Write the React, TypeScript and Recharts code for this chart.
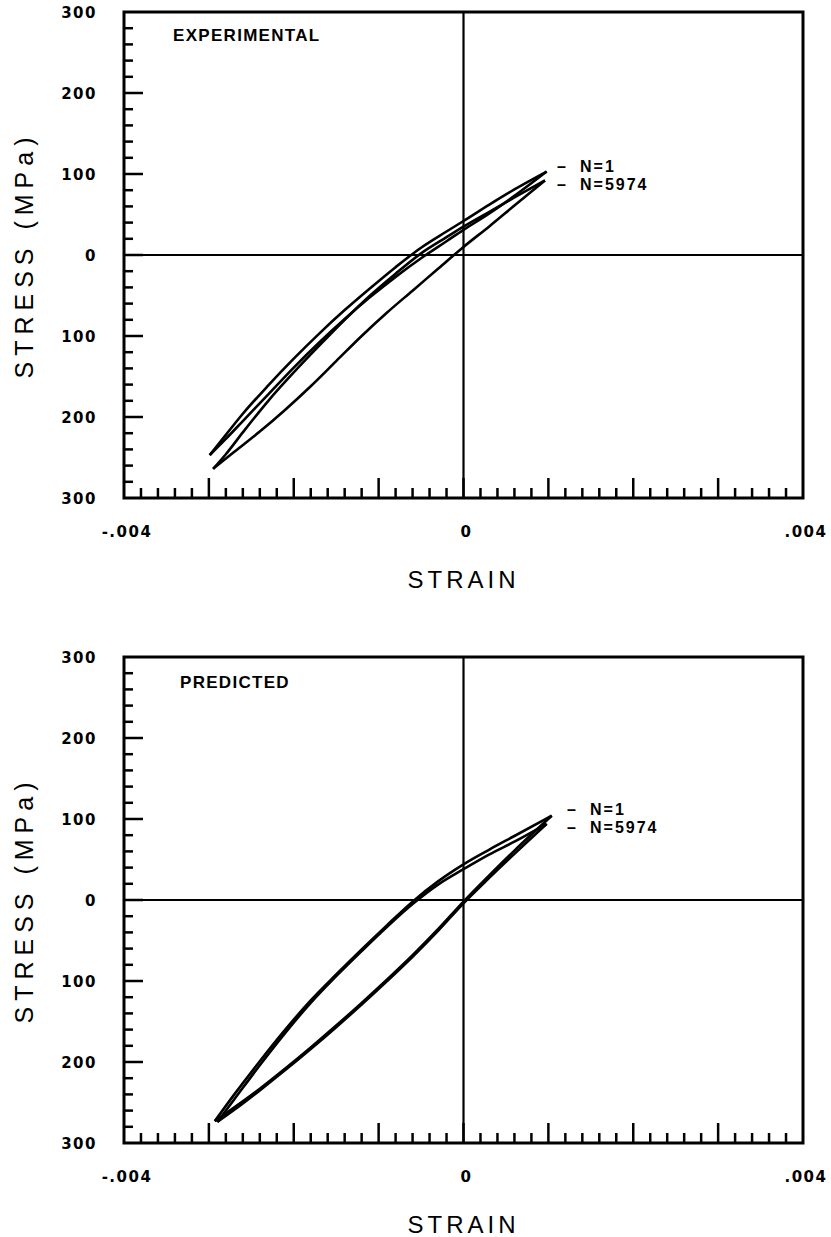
import { LineChart, Line, XAxis, YAxis, ReferenceLine, ReferenceArea, Label } from "recharts"

type Pt = [number, number]

// [strain, stress MPa] — each branch listed in increasing strain
const expN1Loading: Pt[] = [
  [-0.00299, -247], [-0.0028, -222], [-0.0026, -196], [-0.0023, -161], [-0.002, -128],
  [-0.0017, -97], [-0.0014, -68], [-0.0011, -41], [-0.0008, -15], [-0.0005, 9],
  [-0.0002, 29], [0, 42], [0.0003, 62], [0.0006, 81], [0.00098, 103],
]
const expN1Unloading: Pt[] = [
  [-0.00299, -247], [-0.0028, -227], [-0.0026, -205], [-0.0023, -172], [-0.002, -139],
  [-0.0017, -108], [-0.0014, -79], [-0.0011, -52], [-0.0008, -27], [-0.0005, -4],
  [-0.0002, 17], [0, 31], [0.0003, 51], [0.0006, 73], [0.00098, 103],
]
const expN5974Loading: Pt[] = [
  [-0.00295, -264], [-0.0028, -246], [-0.0026, -219], [-0.0023, -180], [-0.002, -145],
  [-0.0017, -112], [-0.0014, -80], [-0.0011, -50], [-0.0008, -23], [-0.0005, 2],
  [-0.0002, 22], [0, 35], [0.0003, 53], [0.0006, 71], [0.00096, 92],
]
const expN5974Unloading: Pt[] = [
  [-0.00295, -264], [-0.0027, -243], [-0.0024, -218], [-0.0021, -191], [-0.0018, -162],
  [-0.0015, -131], [-0.0012, -100], [-0.0009, -71], [-0.0006, -44], [-0.0003, -17],
  [0, 10], [0.0003, 35], [0.0006, 61], [0.00096, 92],
]

const predN1Loading: Pt[] = [
  [-0.00293, -273], [-0.0027, -240], [-0.0024, -199], [-0.0021, -160], [-0.0018, -124],
  [-0.0015, -92], [-0.0012, -61], [-0.0009, -31], [-0.0006, -2], [-0.0003, 23],
  [0, 44], [0.0003, 62], [0.0006, 79], [0.00104, 104],
]
const predN1Unloading: Pt[] = [
  [-0.00293, -273], [-0.0027, -256], [-0.0024, -233], [-0.0021, -208], [-0.0018, -182],
  [-0.0015, -155], [-0.0012, -127], [-0.0009, -98], [-0.0006, -68], [-0.0003, -36],
  [0, -2], [0.0003, 30], [0.0006, 61], [0.00104, 104],
]
const predN5974Loading: Pt[] = [
  [-0.0029, -274], [-0.0027, -246], [-0.0024, -204], [-0.0021, -164], [-0.0018, -127],
  [-0.0015, -94], [-0.0012, -63], [-0.0009, -33], [-0.0006, -5], [-0.0003, 19],
  [0, 38], [0.0003, 56], [0.0006, 72], [0.00098, 94],
]
const predN5974Unloading: Pt[] = [
  [-0.0029, -274], [-0.0027, -259], [-0.0024, -235], [-0.0021, -210], [-0.0018, -184],
  [-0.0015, -157], [-0.0012, -129], [-0.0009, -100], [-0.0006, -70], [-0.0003, -38],
  [0, -4], [0.0003, 27], [0.0006, 57], [0.00098, 94],
]

// axis ticks
const strainLabelValues = [-0.004, 0, 0.004]
const strainLabelText = ["-.004", "0", ".004"]
const stressMajor = [-300, -200, -100, 0, 100, 200, 300]
const STRAIN_STEP = 0.0002
const STRESS_STEP = 20

const strainTicks = Array.from({ length: 41 }, (_, i) => Number((-0.004 + i * STRAIN_STEP).toFixed(4)))
const stressTicks = Array.from({ length: 31 }, (_, i) => -300 + i * STRESS_STEP)

const PLOT_FONT = '"DejaVu Sans", sans-serif'
const TEXT_FONT = '"Liberation Sans", Arial, sans-serif'

const rows = (pts: Pt[]) => pts.map(([strain, stress]) => ({ strain, stress }))

function StrainTick(props: any) {
  const { x, y, payload } = props
  const v = payload.value as number
  const major = Math.abs(v * 1000 - Math.round(v * 1000)) < 1e-6
  const li = strainLabelValues.findIndex((s) => Math.abs(s - v) < 1e-9)
  return (
    <g>
      {Math.abs(v) < 0.0039 && (
        <line x1={x} x2={x} y1={y} y2={y - (major ? 20 : 10)} stroke="#000" strokeWidth={2.5} />
      )}
      {li >= 0 && (
        <text x={x + 3} y={y + 39} textAnchor="middle" fontFamily={PLOT_FONT} fontWeight="bold"
          fontSize={15} letterSpacing={1.5} fill="#000">
          {strainLabelText[li]}
        </text>
      )}
    </g>
  )
}

function StressTick(props: any) {
  const { x, y, payload } = props
  const v = payload.value as number
  const major = stressMajor.includes(v)
  return (
    <g>
      {Math.abs(v) < 300 && (
        <line x1={x} x2={x + (major ? 19 : 9)} y1={y} y2={y} stroke="#000" strokeWidth={2.5} />
      )}
      {major && (
        <text x={x - 27} y={y + 5.5} textAnchor="end" fontFamily={PLOT_FONT} fontWeight="bold"
          fontSize={15} letterSpacing={1.5} fill="#000">
          {Math.abs(v)}
        </text>
      )}
    </g>
  )
}

function LoopPanel({ series }: { series: Pt[][] }) {
  return (
    <LineChart width={831} height={645} margin={{ top: 12, right: 28, bottom: 0, left: 0 }}>
      <XAxis type="number" dataKey="strain" domain={[-0.004, 0.004]} ticks={strainTicks}
        interval={0} tickSize={0} tickMargin={0} tickLine={false} axisLine={false}
        tick={StrainTick} height={147} allowDataOverflow>
        <Label value="STRAIN" position="insideBottom" offset={57}
          style={{ fontFamily: TEXT_FONT, fontSize: 24, letterSpacing: 4, fill: "#000" }} />
      </XAxis>
      <YAxis type="number" dataKey="stress" domain={[-300, 300]} ticks={stressTicks}
        interval={0} tickSize={0} tickMargin={0} tickLine={false} axisLine={false}
        tick={StressTick} width={124} allowDataOverflow>
        <Label value="STRESS (MPa)" angle={-90} position="insideLeft" offset={14} dx={10}
          style={{ textAnchor: "middle", fontFamily: TEXT_FONT, fontSize: 25, letterSpacing: 6, fill: "#000" }} />
      </YAxis>
      <ReferenceArea x1={-0.004} x2={0.004} y1={-300} y2={300} fill="none" fillOpacity={0}
        stroke="#000" strokeWidth={3} />
      <ReferenceLine x={0} stroke="#000" strokeWidth={2.2} />
      <ReferenceLine y={0} stroke="#000" strokeWidth={2.2} />
      {series.map((pts, i) => (
        <Line key={i} data={rows(pts)} dataKey="stress" type="monotone" dot={false}
          stroke="#000" strokeWidth={2.6} strokeLinejoin="round" isAnimationActive={false} />
      ))}
    </LineChart>
  )
}

function Note({ x, y, size, children }: { x: number; y: number; size: number; children: string }) {
  return (
    <div style={{
      position: "absolute", left: x, top: y - 0.49 * size, fontFamily: TEXT_FONT,
      fontWeight: "bold", fontSize: size, lineHeight: 1, letterSpacing: size > 16 ? 1.3 : 2,
      whiteSpace: "pre", color: "#000",
    }}>
      {children}
    </div>
  )
}

export default function App() {
  return (
    <div style={{ position: "absolute", left: 0, top: 0, width: 831, height: 1237, overflow: "hidden", background: "#fff" }}>
      <div style={{ position: "absolute", left: 0, top: 0 }}>
        <LoopPanel series={[expN1Loading, expN1Unloading, expN5974Loading, expN5974Unloading]} />
      </div>
      <div style={{ position: "absolute", left: 0, top: 645 }}>
        <LoopPanel series={[predN1Loading, predN1Unloading, predN5974Loading, predN5974Unloading]} />
      </div>

      <Note x={173} y={35} size={17}>EXPERIMENTAL</Note>
      <Note x={557} y={167} size={16}>–</Note>
      <Note x={580} y={167} size={16}>N=1</Note>
      <Note x={557} y={185} size={16}>–</Note>
      <Note x={580} y={185} size={16}>N=5974</Note>

      <Note x={180} y={682} size={17}>PREDICTED</Note>
      <Note x={567} y={810} size={16}>–</Note>
      <Note x={590} y={810} size={16}>N=1</Note>
      <Note x={567} y={828} size={16}>–</Note>
      <Note x={590} y={828} size={16}>N=5974</Note>
    </div>
  )
}
